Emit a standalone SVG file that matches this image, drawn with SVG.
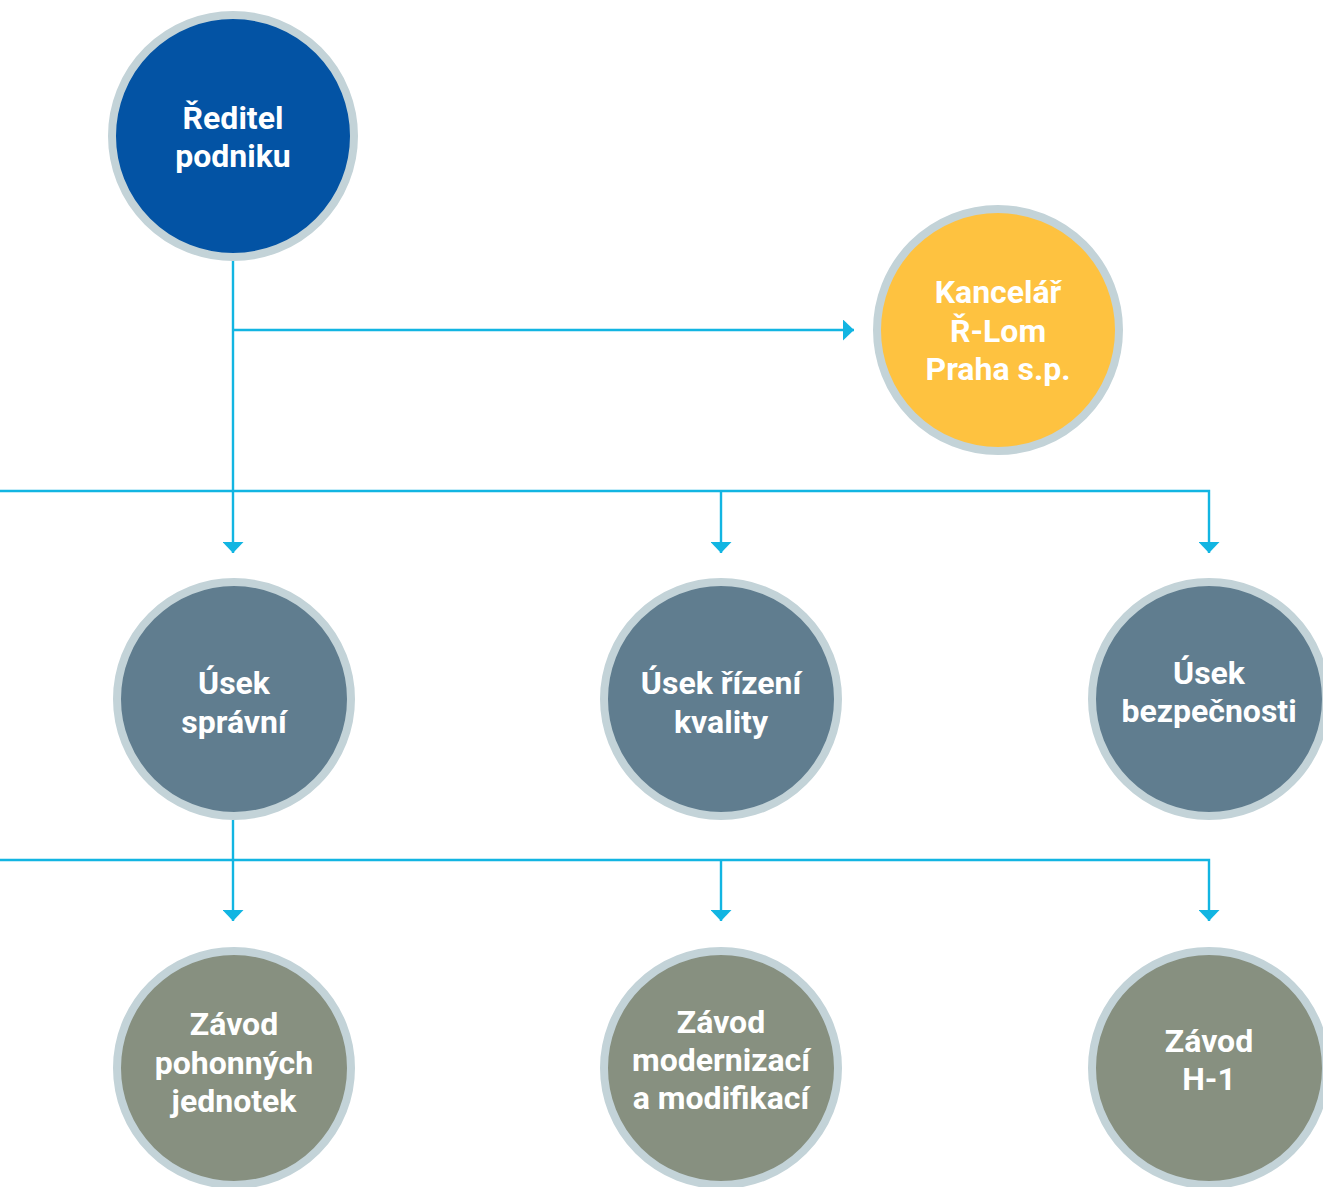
<svg xmlns="http://www.w3.org/2000/svg" width="1323" height="1187" viewBox="0 0 1323 1187">
<style>
.ring{stroke:#c3d3d8;stroke-width:8}
.top{fill:#0353a4}
.yel{fill:#fec240}
.mid{fill:#607d8f}
.bot{fill:#879080}
.t{font-family:Roboto,"Liberation Sans",sans-serif;font-weight:bold;font-size:32px;fill:#fff;text-anchor:middle}
.ln{fill:none;stroke:#12b5e2;stroke-width:2.4}
</style>
<defs>
<marker id="ar" markerWidth="11" markerHeight="21" refX="11" refY="10.5" orient="auto" markerUnits="userSpaceOnUse" viewBox="0 0 11 21">
<path d="M0,0 L11,10.5 L0,21 Z" fill="#12b5e2"/>
</marker>
</defs>
<rect width="1323" height="1187" fill="#fff"/>
<g id="connectors">
<path class="ln" d="M233,258 V553" marker-end="url(#ar)"/>
<path class="ln" d="M233,330 H854" marker-end="url(#ar)"/>
<path class="ln" d="M0,491 H1209 V553" marker-end="url(#ar)"/>
<path class="ln" d="M721,491 V553" marker-end="url(#ar)"/>
<path class="ln" d="M233,820 V921" marker-end="url(#ar)"/>
<path class="ln" d="M0,860 H1209 V921" marker-end="url(#ar)"/>
<path class="ln" d="M721,860 V921" marker-end="url(#ar)"/>
</g>
<g id="reditel">
<circle class="ring top" cx="233" cy="136" r="121"/>
<text class="t" x="233" y="129">Ředitel</text>
<text class="t" x="233" y="167">podniku</text>
</g>
<g id="kancelar">
<circle class="ring yel" cx="998" cy="330" r="121"/>
<text class="t" x="998" y="303">Kancelář</text>
<text class="t" x="998" y="342">Ř-Lom</text>
<text class="t" x="998" y="380">Praha s.p.</text>
</g>
<g id="usek-spravni">
<circle class="ring mid" cx="234" cy="699" r="117"/>
<text class="t" x="234" y="694">Úsek</text>
<text class="t" x="234" y="733">správní</text>
</g>
<g id="usek-kvality">
<circle class="ring mid" cx="721" cy="699" r="117"/>
<text class="t" x="721" y="694">Úsek řízení</text>
<text class="t" x="721" y="733">kvality</text>
</g>
<g id="usek-bezpecnosti">
<circle class="ring mid" cx="1209" cy="699" r="117"/>
<text class="t" x="1209" y="684">Úsek</text>
<text class="t" x="1209" y="722">bezpečnosti</text>
</g>
<g id="zavod-pohonnych">
<circle class="ring bot" cx="234" cy="1068" r="117"/>
<text class="t" x="234" y="1035">Závod</text>
<text class="t" x="234" y="1074">pohonných</text>
<text class="t" x="234" y="1112">jednotek</text>
</g>
<g id="zavod-modernizaci">
<circle class="ring bot" cx="721" cy="1068" r="117"/>
<text class="t" x="721" y="1033">Závod</text>
<text class="t" x="721" y="1071">modernizací</text>
<text class="t" x="721" y="1109">a modifikací</text>
</g>
<g id="zavod-h1">
<circle class="ring bot" cx="1209" cy="1068" r="117"/>
<text class="t" x="1209" y="1052">Závod</text>
<text class="t" x="1209" y="1090">H-1</text>
</g>
</svg>
